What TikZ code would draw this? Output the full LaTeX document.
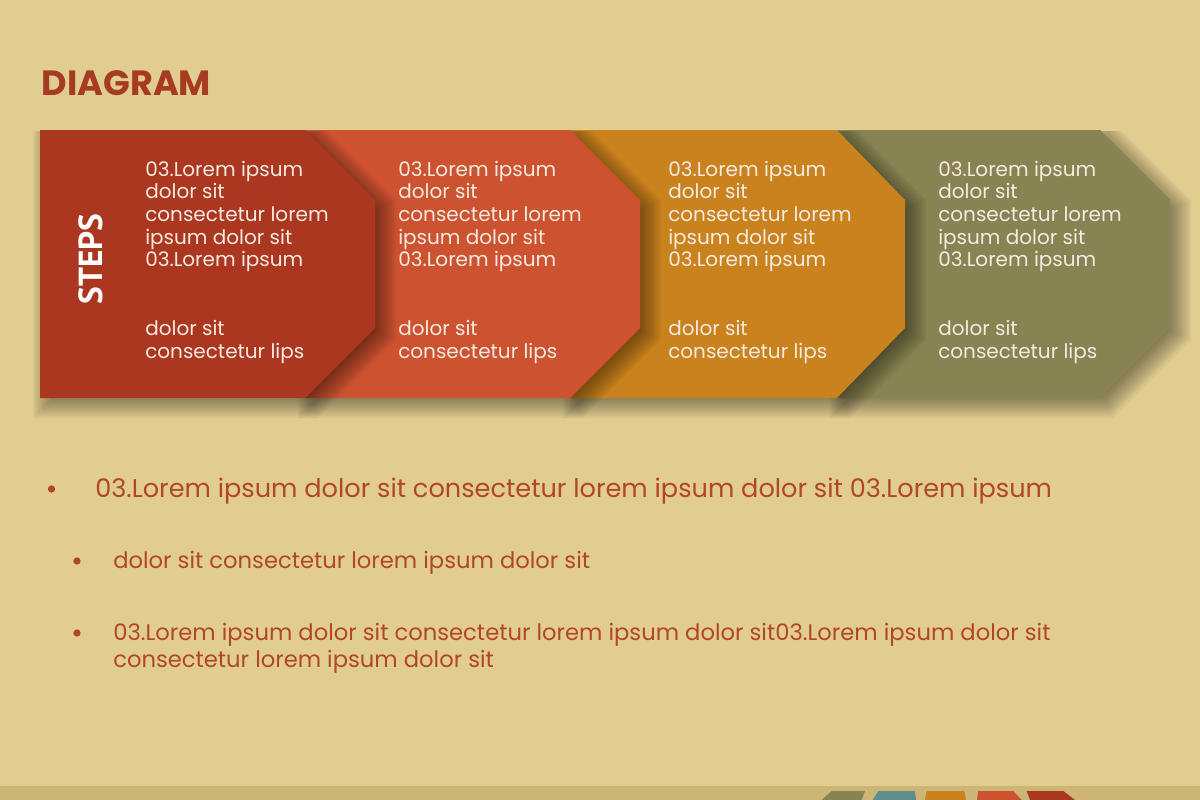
\documentclass[tikz,border=0pt]{standalone}
\usepackage{fontspec}
\setmainfont{Poppins}
\newfontfamily\stepsfont{PT Sans}
\definecolor{bgc}{HTML}{E1CD90}
\definecolor{bandc}{HTML}{CDB575}
\definecolor{cA}{HTML}{AB3720}
\definecolor{cB}{HTML}{CD5230}
\definecolor{cC}{HTML}{C9821D}
\definecolor{cD}{HTML}{878352}
\definecolor{cTeal}{HTML}{5E8E8E}
\definecolor{titlec}{HTML}{A73A22}
\definecolor{listc}{HTML}{B3452B}
\definecolor{boxtextc}{HTML}{F7EAE0}
\tikzset{
  shadowlayer/.style={fill=black, opacity=0.04},
  boxtxt/.style={anchor=base west, inner sep=0pt, text=boxtextc, font=\fontsize{15}{17}\selectfont},
  listone/.style={anchor=base west, inner sep=0pt, text=listc, font=\fontsize{19.2}{22}\selectfont},
  listtwo/.style={anchor=base west, inner sep=0pt, text=listc, font=\fontsize{17}{20}\selectfont},
  dot/.style={circle, fill=listc, inner sep=0pt, minimum size=5.5pt},
}
\newcommand\chevron[5]{% name, color, L, R, T
  \begin{scope}
    \clip (0,131) rectangle (1200,430);
    \begin{scope}[shift={(7,6)}]
      \foreach \r in {14,12,...,-14} {
        \path[shadowlayer] ({#3-\r},{130-\r}) -- ({#4+0.4142*\r},{130-\r}) -- ({#5+\r},{200-0.4142*\r})
          -- ({#5+\r},{328+0.4142*\r}) -- ({#4+0.4142*\r},{398+\r}) -- ({#3-\r},{398+\r}) -- cycle;
      }
    \end{scope}
  \end{scope}
  \fill[#2] (#3,130) -- (#4,130) -- (#5,200) -- (#5,328) -- (#4,398) -- (#3,398) -- cycle;
  \coordinate (#1) at (#3,130);
}
\newcommand\boxlines[2]{% x, prefix
  \foreach \t [count=\k] in {03.Lorem ipsum, dolor sit, consectetur lorem, ipsum dolor sit, 03.Lorem ipsum}
    {\node[boxtxt] (#2a\k) at (#1, {176+22.7*(\k-1)}) {\t};}
  \node[boxtxt] (#2b1) at (#1, 335.7) {dolor sit};
  \node[boxtxt] (#2b2) at (#1, 358.4) {consectetur lips};
}
\begin{document}
\begin{tikzpicture}[x=0.75pt, y=-0.75pt]
\useasboundingbox (0,0) rectangle (1200,800);
\fill[bgc] (0,0) rectangle (1200,800);
\fill[bandc] (0,786) rectangle (1200,800);
% bottom decoration
\fill[cD] (821.7,800) -- (831.7,791) -- (865,791) -- (861.7,800) -- cycle;
\fill[cTeal] (872.7,800) -- (878.3,791) -- (915,791) -- (916,800) -- cycle;
\fill[cC] (925,800) -- (926.7,791) -- (964.3,791) -- (966,800) -- cycle;
\fill[cB] (977,800) -- (978.3,791) -- (1013.3,791) -- (1021.7,800) -- cycle;
\fill[cA] (1030,800) -- (1026.7,791) -- (1063.3,791) -- (1075,800) -- cycle;
% title
\node[anchor=base west, inner sep=0pt, text=titlec, font=\bfseries\fontsize{26.3}{30}\selectfont] (title) at (41.5,95.7) {DIAGRAM};
% chevrons
\chevron{s4}{cD}{837}{1100}{1170}
\chevron{s3}{cC}{570}{837}{905}
\chevron{s2}{cB}{305}{570}{640}
\chevron{s1}{cA}{40}{305}{375}
\node[rotate=90, inner sep=0pt, text=white, font=\stepsfont\bfseries\fontsize{25}{28}\selectfont] (steps) at (91,259) {STEPS};
\boxlines{145}{p}
\boxlines{398}{q}
\boxlines{668}{r}
\boxlines{938}{s}
% list
\node[dot] (d1) at (51.5,489) {};
\node[listone] (l1) at (95,497.3) {03.Lorem ipsum dolor sit consectetur lorem ipsum dolor sit 03.Lorem ipsum};
\node[dot] (d2) at (77,561) {};
\node[listtwo] (l2) at (113,568.5) {dolor sit consectetur lorem ipsum dolor sit};
\node[dot] (d3) at (77,633) {};
\node[listtwo] (l3) at (113,640.5) {03.Lorem ipsum dolor sit consectetur lorem ipsum dolor sit03.Lorem ipsum dolor sit};
\node[listtwo] (l4) at (113,667) {consectetur lorem ipsum dolor sit};
\end{tikzpicture}
\end{document}
